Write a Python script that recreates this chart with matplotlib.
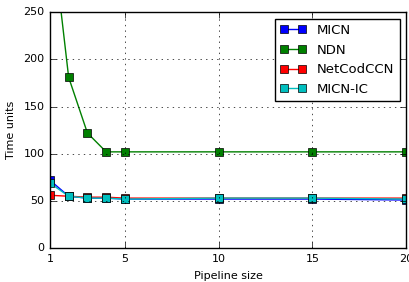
import matplotlib
matplotlib.use("Agg")
import matplotlib.pyplot as plt

plt.style.use("classic")

pipeline = [1, 2, 3, 4, 5, 10, 15, 20]
micn = [72, 55, 53, 53, 52, 52, 52, 51]
ndn = [353, 181, 122, 102, 102, 102, 102, 102]
netcod = [56, 55, 54, 54, 53, 53, 53, 53]
micn_ic = [69, 55, 53, 53, 52, 53, 53, 52]

fig, ax = plt.subplots(figsize=(4.09, 2.82), dpi=100)
fig.subplots_adjust(left=0.122, right=0.993, top=0.957, bottom=0.12)

ax.plot(pipeline, micn, "s-", color="b", markersize=6, label="MICN")
ax.plot(pipeline, ndn, "s-", color="g", markersize=6, label="NDN")
ax.plot(pipeline, netcod, "s-", color="r", markersize=6, label="NetCodCCN")
ax.plot(pipeline, micn_ic, "s-", color="c", markersize=6, label="MICN-IC")

ax.set_xlim(1, 20)
ax.set_ylim(0, 250)
ax.set_xticks([1, 5, 10, 15, 20])
ax.set_yticks([0, 50, 100, 150, 200, 250])
ax.grid(True)
ax.tick_params(labelsize=8)
ax.set_xlabel("Pipeline size", fontsize=8)
ax.set_ylabel("Time units", fontsize=8)
ax.legend(loc="upper right", fontsize=9.5, numpoints=2)

fig.savefig("out.png", dpi=100)
